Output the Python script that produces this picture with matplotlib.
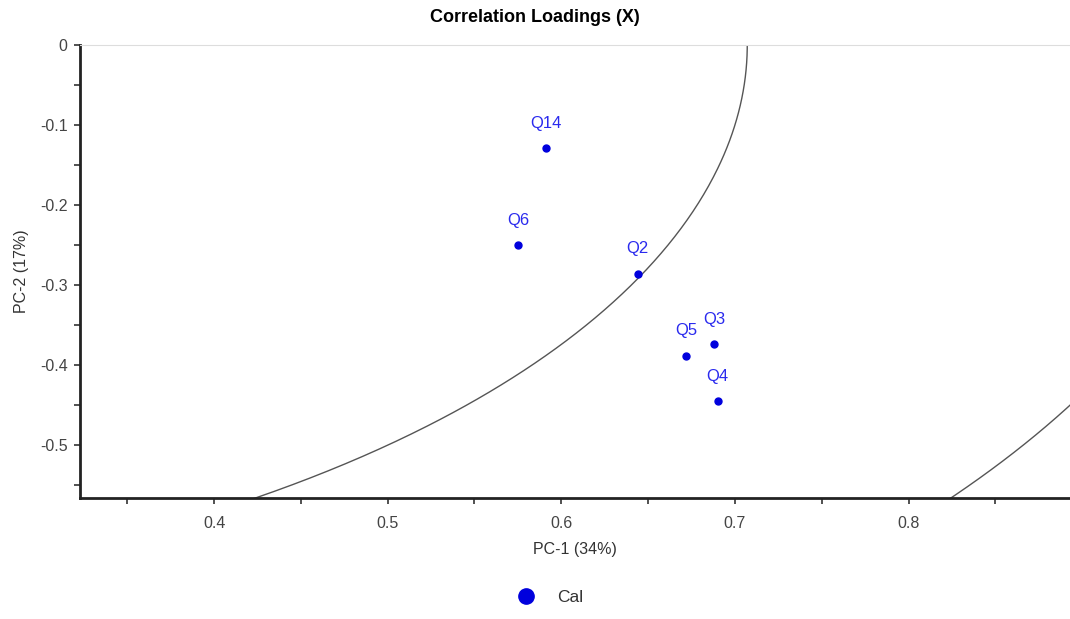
import numpy as np
import matplotlib
matplotlib.use("Agg")
import matplotlib.pyplot as plt
from matplotlib.ticker import MultipleLocator

# Данные нагрузок
names = ['Q14', 'Q6', 'Q2', 'Q5', 'Q3', 'Q4']
pc1 = [0.591, 0.575, 0.644, 0.672, 0.688, 0.690]
pc2 = [-0.129, -0.250, -0.286, -0.388, -0.374, -0.445]
radii = [np.sqrt(0.5), 1.0]

plt.rcParams['font.family'] = ['Liberation Sans', 'DejaVu Sans']

fig = plt.figure(figsize=(10.7, 6.19), dpi=100)
ax = fig.add_axes([0.0748, 0.1955, 0.9252, 0.7318])

# Круги корреляции
t = np.linspace(0, 2 * np.pi, 2000)
for r in radii:
    ax.plot(r * np.cos(t), r * np.sin(t), color='#555555', lw=1.0)

ax.plot(pc1, pc2, 'o', color='#0000dd', ms=5, label='Cal', zorder=3)
for n, x, y in zip(names, pc1, pc2):
    ax.annotate(n, (x, y), xytext=(0, 18), textcoords='offset points',
                ha='center', va='center', color='#2a2aee', fontsize=12)

ax.set_xlim(0.3228, 0.893)
ax.set_ylim(-0.566, 0.0)
ax.xaxis.set_major_locator(MultipleLocator(0.1))
ax.xaxis.set_minor_locator(MultipleLocator(0.05))
ax.yaxis.set_major_locator(MultipleLocator(0.1))
ax.yaxis.set_minor_locator(MultipleLocator(0.05))
ax.xaxis.set_major_formatter(lambda v, p: f'{v:.1f}')
ax.yaxis.set_major_formatter(lambda v, p: f'{v:.1f}' if abs(v) > 1e-9 else '0')
ax.tick_params(which='both', direction='out', length=4, width=1.2, color='#333333',
               labelsize=11.5, labelcolor='#444444')
ax.tick_params(axis='x', pad=9)
ax.tick_params(axis='y', pad=5)

ax.spines['right'].set_visible(False)
ax.spines['top'].set_color('#dddddd')
ax.spines['top'].set_linewidth(0.8)
for s in ['left', 'bottom']:
    ax.spines[s].set_linewidth(2)
    ax.spines[s].set_color('#222222')

ax.set_xlabel('PC-1 (34%)', fontsize=11.5, color='#333333', labelpad=8)
ax.set_ylabel('PC-2 (17%)', fontsize=11.5, color='#333333', labelpad=8)
fig.suptitle('Correlation Loadings (X)', y=0.985, fontsize=13, fontweight='bold',
             family=['Liberation Sans Narrow', 'Liberation Sans', 'DejaVu Sans'])

leg = fig.legend(loc='center', bbox_to_anchor=(0.51, 0.035), frameon=False,
                 fontsize=12.5, markerscale=2.2, handletextpad=0.8)
for txt in leg.get_texts():
    txt.set_color('#333333')

fig.savefig('out.png', dpi=100)
